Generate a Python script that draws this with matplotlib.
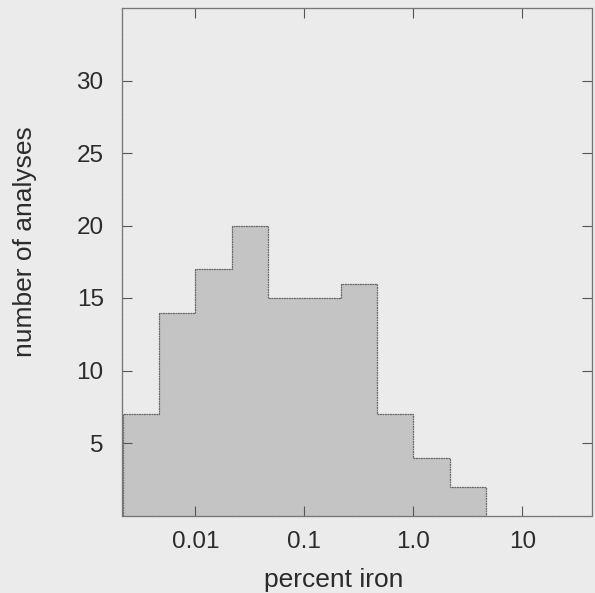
import matplotlib
matplotlib.use("Agg")
import matplotlib.pyplot as plt
import numpy as np

plt.rcParams['font.family'] = ['Liberation Sans', 'DejaVu Sans']

# Data
bin_edges = [0.00215, 0.00464, 0.01, 0.0215, 0.0464, 0.1, 0.215, 0.464, 1.0, 2.15, 4.64]
counts = [7, 14, 17, 20, 15, 15, 16, 7, 4, 2]
x_ticks = [0.01, 0.1, 1.0, 10]
x_tick_labels = ["0.01", "0.1", "1.0", "10"]
y_ticks = [5, 10, 15, 20, 25, 30]
x_label = "percent iron"
y_label = "number of analyses"

paper = '#ebebeb'
fill = '#c4c4c4'
ink = '#2b2b2b'
edge = '#666666'

fig = plt.figure(figsize=(5.95, 5.93), dpi=100, facecolor=paper)
ax = fig.add_axes([121.7/595, (593-515.5)/593, (592.3-121.7)/595, (515.5-8)/593])
ax.set_facecolor(paper)

ax.stairs(counts, bin_edges, fill=True, color=fill, linewidth=0)
ax.stairs(counts, bin_edges, fill=False, color=edge, linewidth=0.9, linestyle=(0, (1.5, 0.5)))

ax.set_xscale('log')
ax.set_xlim(10**-2.675, 10**1.642)
ax.set_ylim(0, 35)

ax.set_xticks(x_ticks)
ax.set_xticklabels(x_tick_labels)
ax.xaxis.set_minor_locator(matplotlib.ticker.NullLocator())
ax.set_yticks(y_ticks)

ax.tick_params(axis='both', which='major', direction='in', length=7, width=0.8,
               color='#555555', labelcolor=ink, labelsize=17.5,
               top=True, right=True)
ax.tick_params(axis='x', pad=11)
ax.tick_params(axis='y', pad=13)

for s in ax.spines.values():
    s.set_color('#777777')
    s.set_linewidth(0.9)
    s.set_linestyle((0, (1.5, 0.5)))

fig.text(334/595, (593-586.7)/593, x_label, ha='center', va='baseline',
         fontsize=19, color=ink)
fig.text(25/595, (593-242)/593, y_label, ha='center', va='center',
         rotation=90, fontsize=19, color=ink)

fig.savefig('out.png', dpi=100, facecolor=paper)
